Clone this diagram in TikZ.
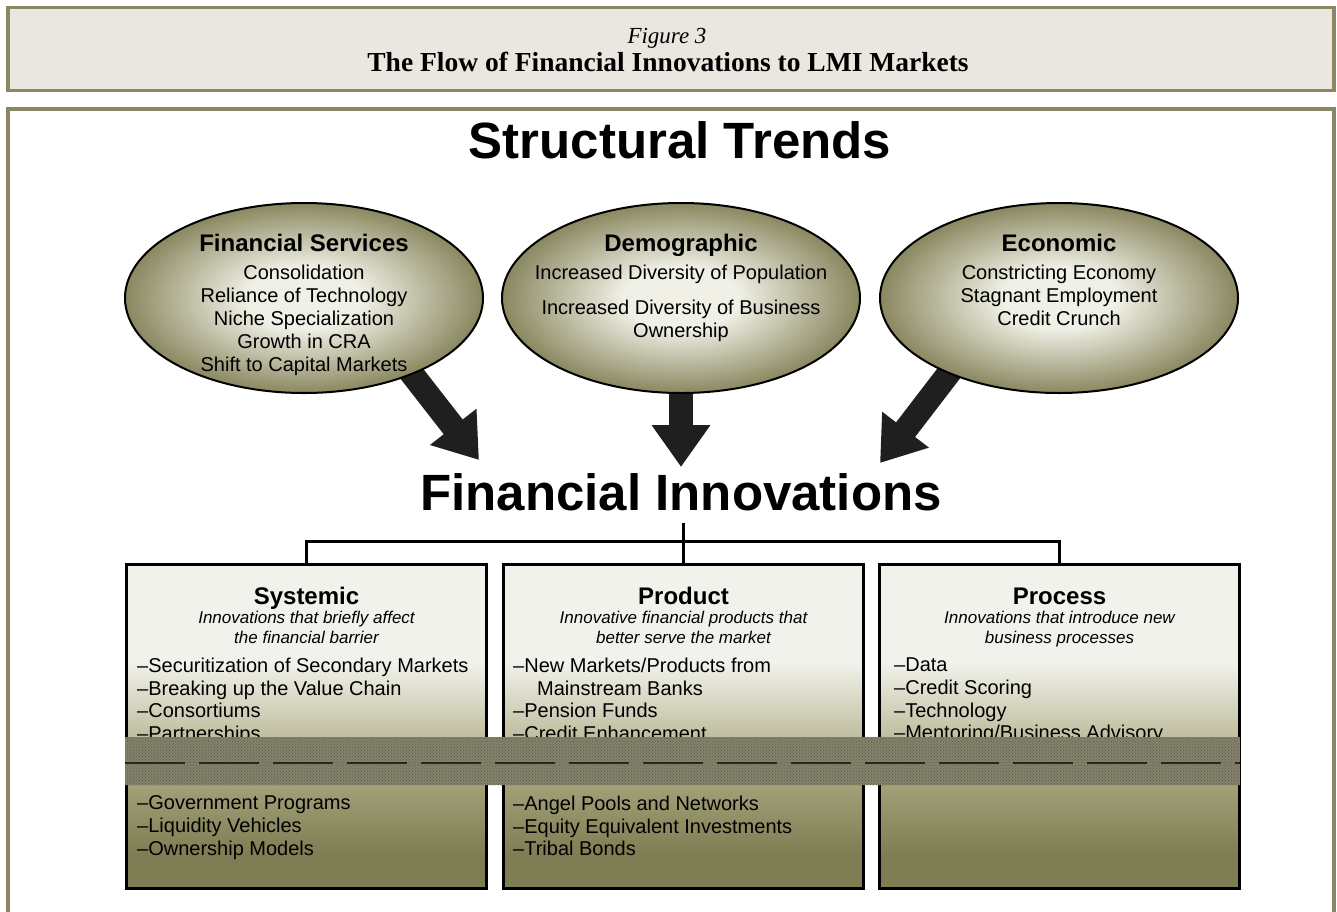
\documentclass[tikz,border=0pt]{standalone}
\usepackage{fontspec}
\setmainfont{Liberation Serif}
\newfontfamily\diagfont{Liberation Sans}
\usetikzlibrary{shapes.geometric,arrows.meta,backgrounds,patterns}

\definecolor{frameolive}{RGB}{139,135,101}
\definecolor{headerfill}{RGB}{233,231,223}
\definecolor{trendlight}{RGB}{240,240,230}
\definecolor{trendolive}{RGB}{138,136,96}
\definecolor{panellight}{RGB}{242,242,236}
\definecolor{panelmid}{RGB}{172,170,130}
\definecolor{paneldark}{RGB}{126,124,82}
\definecolor{noiseband}{RGB}{132,130,104}

\pgfdeclareradialshading{trendglow}{\pgfpoint{0bp}{0bp}}{color(0bp)=(trendlight); color(8bp)=(trendlight); color(25bp)=(trendolive); color(50bp)=(trendolive)}
\pgfdeclareverticalshading{panelfade}{100bp}{color(0bp)=(paneldark); color(30bp)=(paneldark); color(44bp)=(panelmid); color(60bp)=(panellight); color(100bp)=(panellight)}

\tikzset{
    trend/.style={ellipse, draw=black, line width=2pt, shading=trendglow,
        minimum width=358pt, minimum height=190pt, inner sep=0pt},
    trendhead/.style={font=\diagfont\bfseries\fontsize{24}{28}\selectfont, anchor=base},
    trendbody/.style={font=\diagfont\fontsize{20}{23}\selectfont, align=center,
        anchor=north, inner sep=0pt},
    bigarrow/.style={line width=24pt, draw=black!88, -{Triangle[length=42pt,width=56pt]}},
    panel/.style={rectangle, draw=black, line width=3pt, shading=panelfade,
        minimum width=360pt, minimum height=324pt, anchor=north west, inner sep=0pt},
    paneltitle/.style={font=\diagfont\bfseries\fontsize{24}{28}\selectfont, anchor=base},
    panelnote/.style={font=\diagfont\itshape\fontsize{17}{20}\selectfont, align=center,
        anchor=north, inner sep=0pt},
    panellist/.style={font=\diagfont\fontsize{20}{22.8}\selectfont, align=left,
        anchor=north west, inner sep=0pt},
    link/.style={draw=black, line width=3pt}
}

\begin{document}
\begin{tikzpicture}[x=1pt, y=-1pt]
    % 1. Page size and white paper
    \useasboundingbox (0,0) rectangle (1337,911);
    \begin{scope}[on background layer]
        \fill[white] (0,0) rectangle (1337,911);
    \end{scope}

    % 2. Caption strip
    \draw[frameolive, line width=3.5pt, fill=headerfill] (8,7.5) rectangle (1334,90.5);
    \node[font=\itshape\fontsize{23}{26}\selectfont, anchor=base] (figno) at (667,43) {Figure 3};
    \node[font=\bfseries\fontsize{27.5}{30}\selectfont, anchor=base] (figtitle) at (668,71)
        {The Flow of Financial Innovations to LMI Markets};

    % 3. Frame round the diagram
    \draw[frameolive, line width=3.5pt] (8,930) -- (8,109) -- (1334,109) -- (1334,930);

    % 4. Structural trends
    \node[font=\diagfont\bfseries\fontsize{51}{56}\selectfont, anchor=base] (trends) at (680,158)
        {Structural Trends};

    \node[trend] (fin) at (304,298) {};
    \node[trend] (demo) at (681,298) {};
    \node[trend] (econ) at (1059,298) {};

    \node[trendhead] (finhead) at ([shift={(0,-47)}]fin.center) {Financial Services};
    \node[trendbody] (finbody) at ([shift={(0,-33.5)}]fin.center)
        {Consolidation\\Reliance of Technology\\Niche Specialization\\Growth in CRA\\Shift to Capital Markets};

    \node[trendhead] (demohead) at ([shift={(0,-47)}]demo.center) {Demographic};
    \node[trendbody] (demobody) at ([shift={(0,-33.5)}]demo.center)
        {Increased Diversity of Population\\[12pt]Increased Diversity of Business\\Ownership};

    \node[trendhead] (econhead) at ([shift={(0,-47)}]econ.center) {Economic};
    \node[trendbody] (econbody) at ([shift={(0,-33.5)}]econ.center)
        {Constricting Economy\\Stagnant Employment\\Credit Crunch};

    % 5. Block arrows into the innovations
    \coordinate (finTip) at (479,460);
    \coordinate (demoTip) at (681,467);
    \coordinate (econTip) at (880,463);
    \begin{scope}[on background layer]
        \draw[bigarrow] ([shift={(94,58)}]fin.center) -- (finTip);
        \draw[bigarrow] (demo.center) -- (demoTip);
        \draw[bigarrow] ([shift={(-100,62)}]econ.center) -- (econTip);
    \end{scope}

    \node[font=\diagfont\bfseries\fontsize{51}{56}\selectfont, anchor=base, inner sep=12pt]
        (innov) at (681,510) {Financial Innovations};

    % 6. The three kinds of innovation
    \node[panel] (sys) at (125,563) {};
    \node[panel] (prod) at (502,563) {};
    \node[panel] (proc) at (878,563) {};

    \draw[link] (prod.north |- innov.south) -- (prod.north);
    \draw[link] (sys.north) -- ++(0,-22) -| (proc.north);

    % Systemic
    \node[paneltitle] (systitle) at ([shift={(0,41)}]sys.north) {Systemic};
    \node[panelnote] (sysnote) at ([shift={(0,47.5)}]sys.north)
        {Innovations that briefly affect\\the financial barrier};
    \node[panellist] (sysup) at ([shift={(12,94.5)}]sys.north west)
        {\textendash Securitization of Secondary Markets\\\textendash Breaking up the Value Chain\\
         \textendash Consortiums\\\textendash Partnerships};
    \node[panellist] (syslow) at ([shift={(12,232.5)}]sys.north west)
        {\textendash Government Programs\\\textendash Liquidity Vehicles\\\textendash Ownership Models};

    % Product
    \node[paneltitle] (prodtitle) at ([shift={(0,41)}]prod.north) {Product};
    \node[panelnote] (prodnote) at ([shift={(0,47.5)}]prod.north)
        {Innovative financial products that\\better serve the market};
    \node[panellist] (produp) at ([shift={(11,94.5)}]prod.north west)
        {\textendash New Markets/Products from\\\hspace*{24pt}Mainstream Banks\\
         \textendash Pension Funds\\\textendash Credit Enhancement};
    \node[panellist] (prodlow) at ([shift={(11,232.5)}]prod.north west)
        {\textendash Angel Pools and Networks\\\textendash Equity Equivalent Investments\\\textendash Tribal Bonds};

    % Process
    \node[paneltitle] (proctitle) at ([shift={(0,41)}]proc.north) {Process};
    \node[panelnote] (procnote) at ([shift={(0,47.5)}]proc.north)
        {Innovations that introduce new\\business processes};
    \node[panellist] (procup) at ([shift={(16,94.5)}]proc.north west)
        {\textendash Data\\\textendash Credit Scoring\\\textendash Technology\\\textendash Mentoring/Business Advisory};

    % 7. Damaged band of the scan
    \fill[noiseband] (125,737) rectangle (1240,785);
    \fill[pattern=crosshatch dots, pattern color=black!65] (125,737) rectangle (1240,785);
    \draw[black!85, line width=2.5pt, dash pattern=on 60pt off 14pt] (125,763) -- (1240,763);

\end{tikzpicture}
\end{document}
